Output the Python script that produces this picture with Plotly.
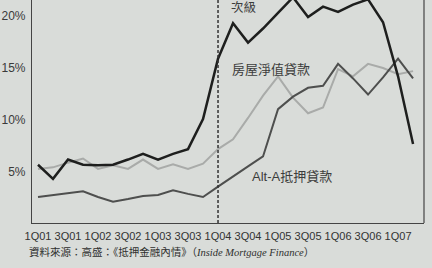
import plotly.graph_objects as go

quarters = [f"{q}Q{y:02d}" for y in range(1, 8) for q in range(1, 5)][:26]

subprime = [5.7, 4.35, 6.2, 5.7, 5.65, 5.7, 6.2, 6.75, 6.2, 6.75, 7.2, 10.1,
            15.9, 19.3, 17.45, 18.8, 20.3, 21.8, 19.9, 20.9, 20.4, 21.1, 21.6, 19.4,
            14.2, 7.7]
home_equity = [5.3, 5.45, 5.9, 6.3, 5.3, 5.65, 5.3, 6.2, 5.3, 5.75, 5.3, 5.8,
               7.2, 8.15, 10.2, 12.35, 14.2, 12.15, 10.65, 11.2, 14.9, 14.2, 15.4, 15.0,
               14.4, 14.7]
alt_a = [2.6, 2.8, 2.95, 3.15, 2.6, 2.15, 2.4, 2.7, 2.8, 3.25, 2.9, 2.6,
         3.6, 4.6, 5.55, 6.5, 11.05, 12.25, 13.1, 13.3, 15.4, 14.0, 12.45, 14.1,
         15.9, 14.0]

tick_labels = ["1Q01", "3Q01", "1Q02", "3Q02", "1Q03", "3Q03", "1Q04", "3Q04",
               "1Q05", "3Q05", "1Q06", "3Q06", "1Q07"]
y_ticks = [5, 10, 15, 20]
y_tick_text = ["5%", "10%", "15%", "20%"]

series_labels = ["次級", "房屋淨值貸款", "Alt-A抵押貸款"]
label_pos = [(13.73, 20.8), (15.53, 14.9), (16.9, 4.6)]
source = ("資料來源：高盛：《抵押金融內情》（"
          "<span style='font-family:Liberation Serif'><i>Inside Mortgage Finance</i></span>）")

idx = list(range(len(quarters)))
bg = "#d9dcd9"

fig = go.Figure()
fig.add_trace(go.Scatter(x=idx, y=home_equity, mode="lines",
                         line=dict(color="#a9aba9", width=2), hoverinfo="skip"))
fig.add_trace(go.Scatter(x=idx, y=alt_a, mode="lines",
                         line=dict(color="#4e4f4e", width=2), hoverinfo="skip"))
fig.add_trace(go.Scatter(x=idx, y=subprime, mode="lines",
                         line=dict(color="#1e1f1e", width=2.5), hoverinfo="skip"))

for txt, (lx, ly) in zip(series_labels, label_pos):
    fig.add_annotation(x=lx, y=ly, xref="x", yref="y", text=txt, showarrow=False,
                       font=dict(family="Liberation Sans, Noto Sans CJK TC", size=13 if txt != "次級" else 12.5,
                                 color="#3c3d3c"))

fig.add_annotation(x=-0.013, y=-0.13, xref="paper", yref="paper", xanchor="left",
                   yanchor="middle", text=source, showarrow=False,
                   font=dict(family="Noto Sans CJK TC", size=10.5, color="#2e2f2e"))

fig.add_shape(type="line", xref="x", yref="paper", x0=12, x1=12, y0=0, y1=1,
              line=dict(color="#333333", width=1.5, dash="3px,2px"))
fig.add_shape(type="line", xref="paper", yref="paper", x0=1, x1=1, y0=0, y1=1,
              line=dict(color="#444444", width=1.2))

fig.update_layout(
    width=432, height=268,
    margin=dict(l=32, r=8, t=0, b=45),
    paper_bgcolor=bg, plot_bgcolor=bg,
    showlegend=False,
    xaxis=dict(range=[-0.4, 25.73], tickvals=idx[::2], ticktext=tick_labels,
               showgrid=False, zeroline=False, showline=True, linecolor="#444444",
               linewidth=1.2, ticks="", ticklabelstandoff=3,
               tickfont=dict(family="Liberation Sans", size=11, color="#333333")),
    yaxis=dict(range=[0.1, 21.54], tickvals=y_ticks, ticktext=y_tick_text,
               showgrid=False, zeroline=False, showline=True, linecolor="#444444",
               linewidth=1.2, ticks="", ticklabelstandoff=3,
               tickfont=dict(family="Liberation Sans", size=12, color="#3a3a3a")),
)

fig.write_html("out.html")
